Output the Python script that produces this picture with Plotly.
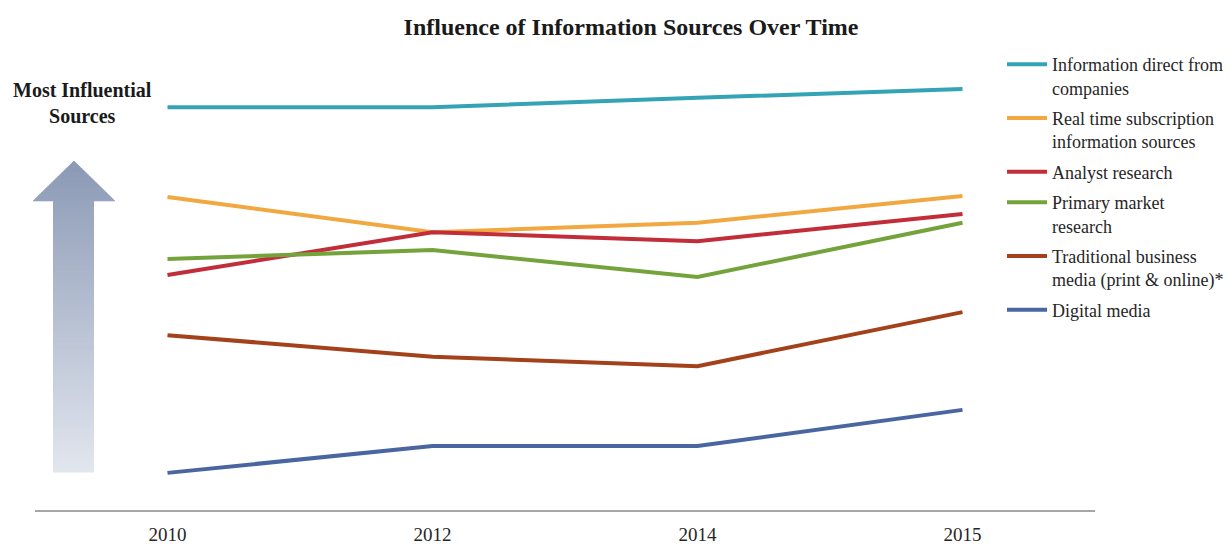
import plotly.graph_objects as go

# Survey years shown as evenly spaced categories
years = ["2010", "2012", "2014", "2015"]

# Relative influence score per source (higher = more influential)
info_direct = [85.7, 85.7, 87.7, 89.6]
real_time = [66.6, 59.1, 61.1, 66.8]
analyst = [50.0, 59.1, 57.2, 63.0]
primary_market = [53.4, 55.3, 49.6, 61.1]
traditional_media = [37.2, 32.6, 30.6, 42.1]
digital_media = [7.9, 13.6, 13.6, 21.3]

series_names = [
    "Information direct from<br>companies",
    "Real time subscription<br>information sources",
    "Analyst research",
    "Primary market<br>research",
    "Traditional business<br>media (print & online)*",
    "Digital media",
]
series_values = [info_direct, real_time, analyst, primary_market,
                 traditional_media, digital_media]
series_colors = ["#34a3b5", "#f2a840", "#c22d3a", "#74a33c", "#a3411b", "#4a66a0"]

W, H = 1229, 547
ML, MR, MT, MB = 35, 134, 40, 37
PW, PH = W - ML - MR, H - MT - MB

SERIF = "Liberation Serif, Times New Roman, serif"


def px(x):
    return (x - ML) / PW


def py(y):
    return (H - MB - y) / PH


fig = go.Figure()

for name, vals, col in zip(series_names, series_values, series_colors):
    fig.add_trace(go.Scatter(
        x=years, y=vals, name=name, mode="lines",
        line=dict(color=col, width=4),
        legendgroup=name,
    ))

# Gradient-filled "influence" arrow built from thin horizontal slices
top_rgb = (140, 154, 182)
bot_rgb = (226, 230, 238)
y_tip, y_base, y_bottom = 161, 201, 472
head_l, head_r = 33, 115
shaft_l, shaft_r = 53, 94
cx = (head_l + head_r) / 2
shapes = []
step = 2
y = y_tip
while y < y_bottom:
    y2 = min(y + step, y_bottom)
    t = (y - y_tip) / (y_bottom - y_tip)
    c = tuple(round(a + (b - a) * t) for a, b in zip(top_rgb, bot_rgb))
    color = "rgb(%d,%d,%d)" % c
    if y < y_base:
        # triangular head: widen linearly toward the base
        f1 = (y - y_tip) / (y_base - y_tip)
        f2 = (y2 - y_tip) / (y_base - y_tip)
        hw1 = f1 * (head_r - head_l) / 2
        hw2 = f2 * (head_r - head_l) / 2
        path = "M %f %f L %f %f L %f %f L %f %f Z" % (
            px(cx - hw1), py(y), px(cx + hw1), py(y),
            px(cx + hw2), py(y2), px(cx - hw2), py(y2))
        shapes.append(dict(type="path", xref="paper", yref="paper", path=path,
                           fillcolor=color, line=dict(width=0.6, color=color),
                           layer="below"))
    else:
        shapes.append(dict(type="rect", xref="paper", yref="paper",
                           x0=px(shaft_l), x1=px(shaft_r), y0=py(y), y1=py(y2 + 0.5),
                           fillcolor=color, line=dict(width=0), layer="below"))
    y = y2

fig.update_layout(
    width=W, height=H,
    margin=dict(l=ML, r=MR, t=MT, b=MB, autoexpand=False),
    paper_bgcolor="white", plot_bgcolor="white",
    title=dict(text="<b>Influence of Information Sources Over Time</b>",
               x=631 / W, xanchor="center", y=1 - 27 / H, yanchor="middle",
               font=dict(family=SERIF, size=24, color="#1a1a1a")),
    xaxis=dict(type="category", range=[-0.5, 3.5], showgrid=False, zeroline=False,
               showline=True, linecolor="#a6a6a6", linewidth=1.5, automargin=False,
               ticks="", tickfont=dict(family=SERIF, size=19, color="#262626"),
               ticklabelstandoff=6),
    yaxis=dict(range=[0, 100], visible=False, fixedrange=True, automargin=False),
    legend=dict(x=px(1002), xanchor="left", y=py(46), yanchor="top",
                font=dict(family=SERIF, size=18, color="#262626"),
                bgcolor="rgba(0,0,0,0)", tracegroupgap=4, itemwidth=40,
                valign="top"),
    shapes=shapes,
    annotations=[dict(text="<b>Most Influential<br>Sources</b>", xref="paper", yref="paper",
                      x=px(82), y=py(103), xanchor="center", yanchor="middle",
                      showarrow=False, align="center",
                      font=dict(family=SERIF, size=20, color="#1a1a1a"))],
)

fig.write_html("out.html")
